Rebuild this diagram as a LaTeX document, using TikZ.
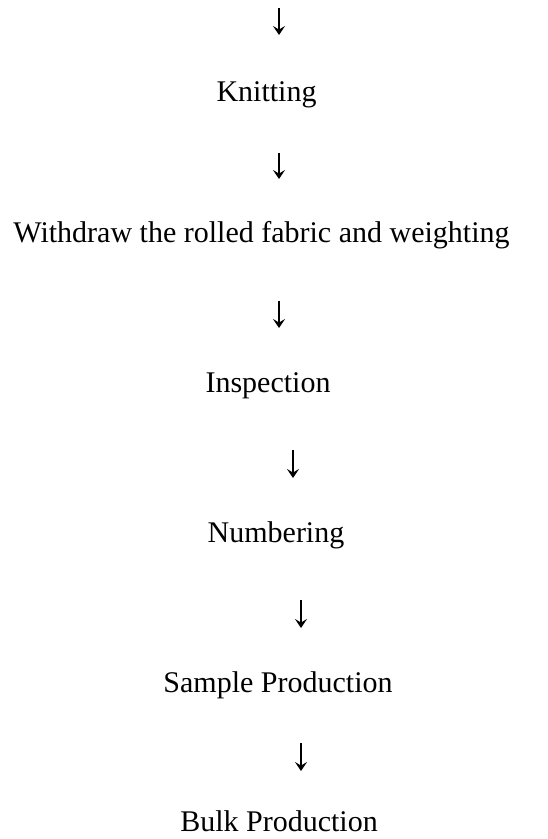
\documentclass[tikz,border=0pt]{standalone}
\usepackage{fontspec}
\setmainfont{Liberation Serif}
\usetikzlibrary{arrows.meta}
\tikzset{
    steplabel/.style={anchor=base, inner sep=0pt, font=\fontsize{15pt}{18pt}\selectfont},
    flow/.style={-{Stealth[length=4.5pt,width=6pt,inset=1.8pt]}, line width=0.6pt,
        shorten <=29pt, shorten >=32pt}
}
\begin{document}
\begin{tikzpicture}[x=0.5pt,y=-0.5pt]
    \useasboundingbox (0,0) rectangle (547,839);
    % process steps
    \coordinate (top) at (279,8);
    \node[steplabel] (knit) at (266.5,102) {Knitting};
    \node[steplabel] (withdraw) at (261.5,243) {Withdraw the rolled fabric and weighting};
    \node[steplabel] (inspect) at (268,392) {Inspection};
    \node[steplabel] (number) at (276,542) {Numbering};
    \node[steplabel] (sample) at (278,692) {Sample Production};
    \node[steplabel] (bulk) at (279,831) {Bulk Production};
    % arrows
    \draw[flow, shorten <=0pt, shorten >=33.5pt] (top) -- (top |- knit.base);
    \draw[flow, shorten <=25.5pt, shorten >=32pt] ([xshift=6.25pt]knit.base) -- ([xshift=6.25pt]knit.base |- withdraw.base);
    \draw[flow] ([xshift=8.75pt]withdraw.base) -- ([xshift=8.75pt]withdraw.base |- inspect.base);
    \draw[flow] ([xshift=12.5pt]inspect.base) -- ([xshift=12.5pt]inspect.base |- number.base);
    \draw[flow] ([xshift=12.5pt]number.base) -- ([xshift=12.5pt]number.base |- sample.base);
    \draw[flow, shorten <=25.5pt, shorten >=30pt] ([xshift=11.5pt]sample.base) -- ([xshift=11.5pt]sample.base |- bulk.base);
\end{tikzpicture}
\end{document}
